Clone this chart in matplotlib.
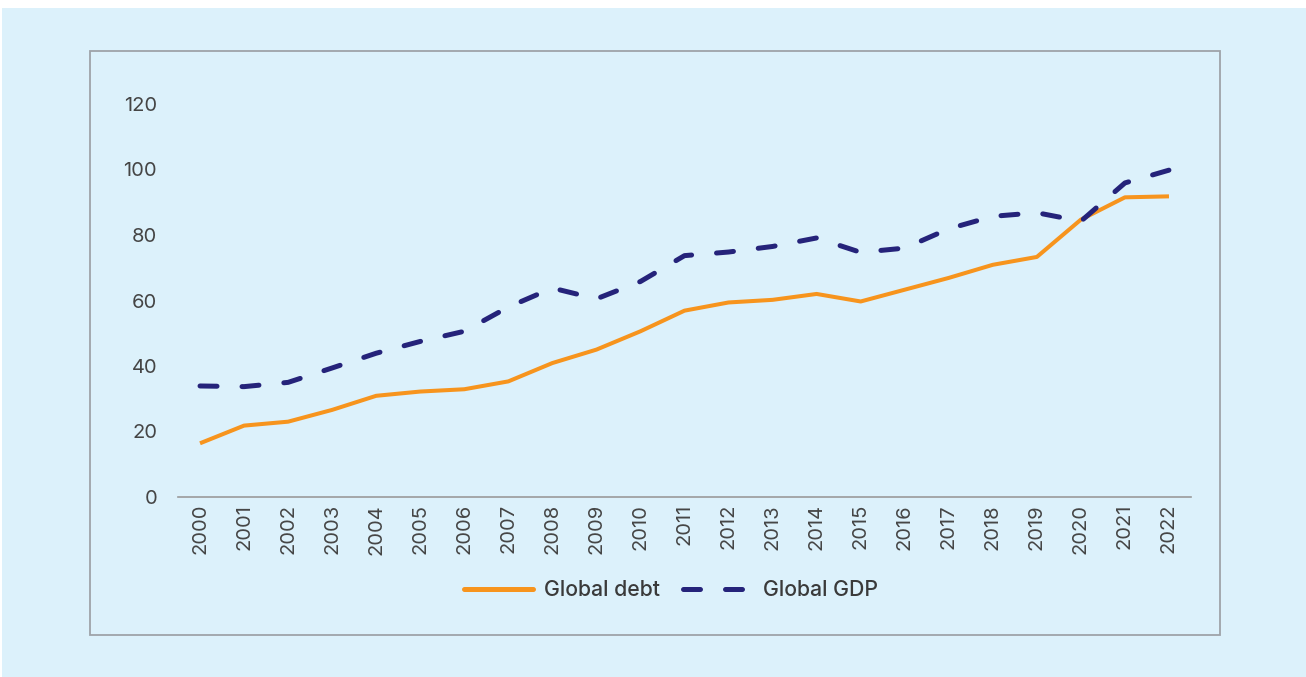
import matplotlib
matplotlib.use("Agg")
import matplotlib.pyplot as plt
from matplotlib.patches import Rectangle
from matplotlib.lines import Line2D

years = list(range(2000, 2023))
global_debt = [16.4, 21.8, 23.0, 26.6, 30.9, 32.2, 32.9, 35.3, 40.9, 45.0, 50.6,
               56.9, 59.4, 60.2, 62.0, 59.7, 63.3, 66.9, 70.9, 73.3, 84.7, 91.5, 91.8]
global_gdp = [33.9, 33.7, 35.0, 39.4, 43.9, 47.5, 50.6, 58.0, 63.8, 60.5, 65.8,
              73.7, 74.8, 76.5, 79.1, 74.7, 76.0, 81.9, 85.7, 86.8, 84.2, 95.9, 99.8]
y_ticks = [0, 20, 40, 60, 80, 100, 120]
series_labels = ["Global debt", "Global GDP"]

BG = "#dcf1fb"
ORANGE = "#f7941d"
NAVY = "#25237a"
TEXT = "#454545"
DASHES = (3.4, 5.0)

plt.rcParams["font.family"] = ["Inter", "DejaVu Sans"]

W, H = 1306, 677
fig = plt.figure(figsize=(W / 100, H / 100), dpi=100, facecolor="white")

def fx(px):
    return px / W

def fy(py):
    return 1 - py / H

# panel background and framed box
fig.patches.append(Rectangle((fx(2), 0), 1 - fx(2), fy(8), transform=fig.transFigure,
                             facecolor=BG, edgecolor="none", zorder=-10))
fig.patches.append(Rectangle((fx(90), fy(635)), fx(1220) - fx(90), fy(51) - fy(635),
                             transform=fig.transFigure, facecolor="none",
                             edgecolor="#9ea3a8", linewidth=1.3, zorder=-9))

ax = fig.add_axes([fx(178), fy(497), fx(1191) - fx(178), fy(104) - fy(497)])
ax.set_zorder(2)
ax.set_facecolor("none")

ax.plot(years, global_debt, color=ORANGE, linewidth=2.9, solid_capstyle="butt",
        label=series_labels[0], zorder=2, clip_on=False)
ax.plot(years, global_gdp, color=NAVY, linewidth=3.6, dashes=DASHES,
        dash_capstyle="round", label=series_labels[1], zorder=3, clip_on=False)

ax.set_xlim(1999.5, 2022.5)
ax.set_ylim(0, 120)
ax.set_yticks(y_ticks)
ax.set_xticks(years)
ax.set_xticklabels([str(y) for y in years], rotation=90)

for side in ["left", "right", "top"]:
    ax.spines[side].set_visible(False)
ax.spines["bottom"].set_color("#9a9a9a")
ax.spines["bottom"].set_linewidth(1.2)

ax.tick_params(axis="y", length=0, pad=15, labelsize=14.5, labelcolor=TEXT)
ax.tick_params(axis="x", length=0, pad=5, labelsize=14.5, labelcolor=TEXT)

handles = [Line2D([], [], color=ORANGE, linewidth=3.6, solid_capstyle="round"),
           Line2D([], [], color=NAVY, linewidth=3.6, dashes=DASHES,
                  dash_capstyle="round")]
leg = fig.legend(handles, series_labels, loc="center",
                 bbox_to_anchor=(fx(671), fy(590)), ncol=2, frameon=False,
                 handlelength=3.25, handletextpad=0.52, columnspacing=1.08,
                 prop={"size": 15.3, "weight": "medium"})
for t in leg.get_texts():
    t.set_color("#3a3a3a")

fig.savefig("out.png", dpi=100, facecolor="white")
